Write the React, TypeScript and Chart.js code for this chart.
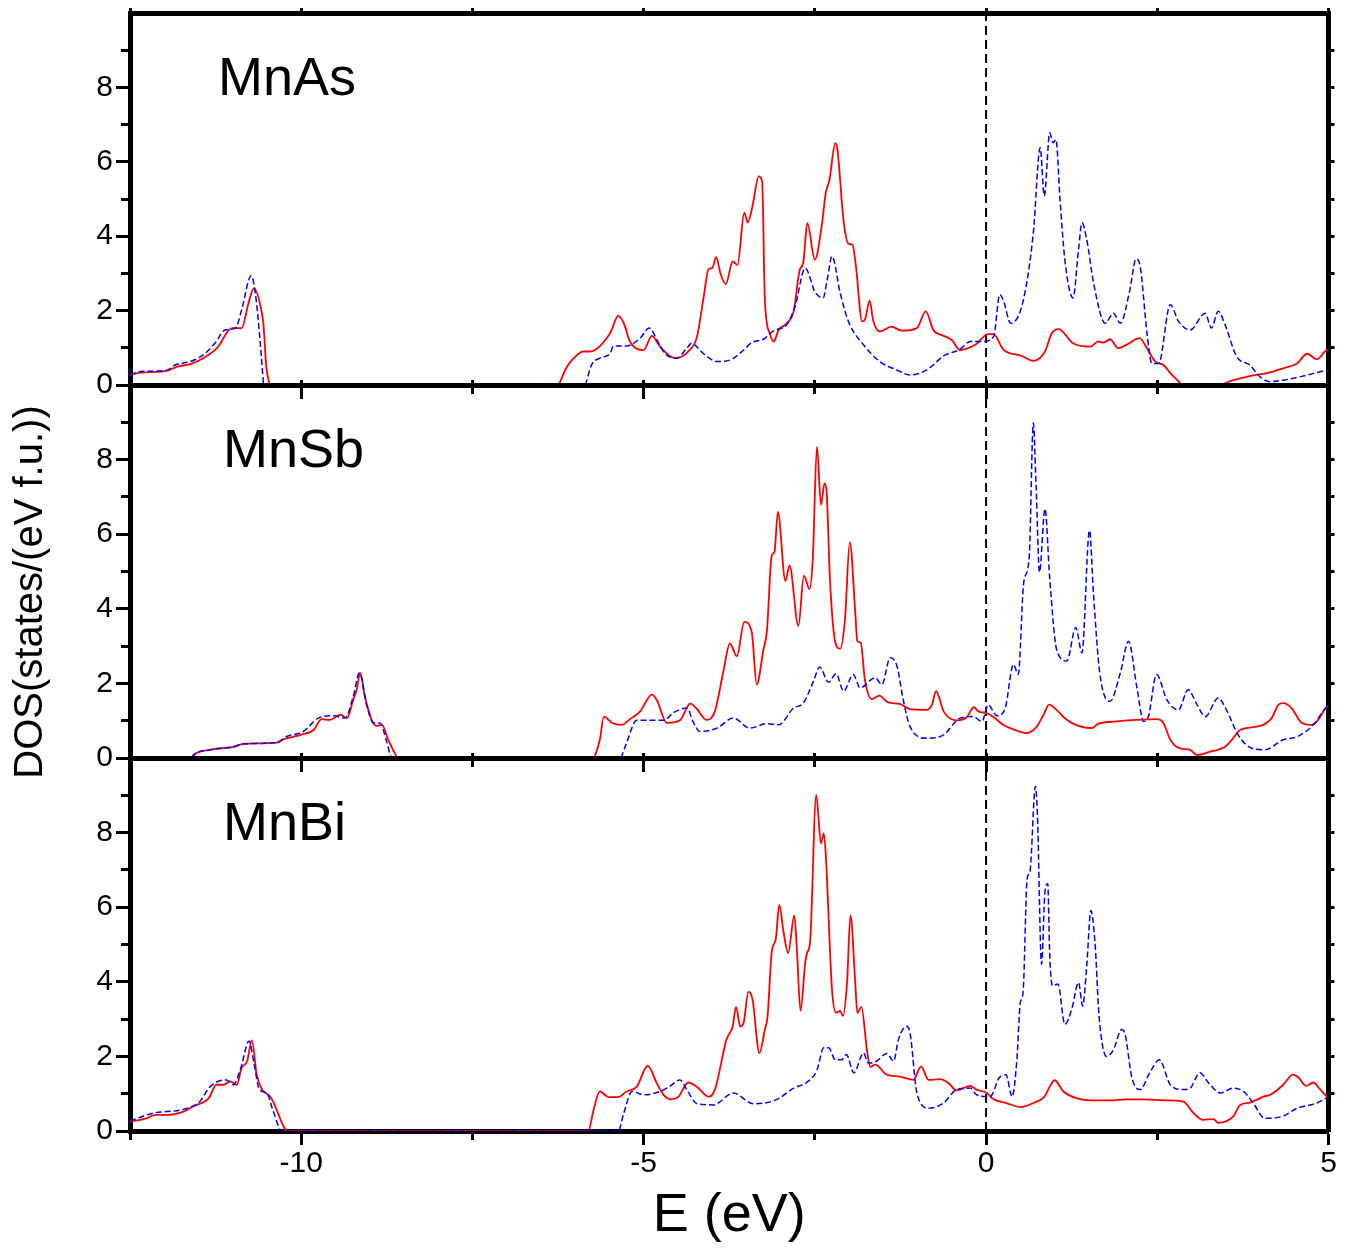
import React, { useEffect, useRef } from 'react';
import { Chart, registerables } from 'chart.js';

Chart.register(...registerables);

// ---------- axis ranges and ticks ----------
const X_MIN = -12.5;
const X_MAX = 5;
const Y_MIN = 0;
const Y_MAX = 10;
const xMajorTicks = [-10, -5, 0, 5];
const xMinorTicks = [-12.5, -7.5, -2.5, 2.5];
const xTopTicks = [-12.5, -10, -7.5, -5, -2.5, 0, 2.5, 5];
const yMajorTicks = [0, 2, 4, 6, 8];
const yMinorTicks = [1, 3, 5, 7, 9];
const yRightTicks = [1, 2, 3, 4, 5, 6, 7, 8, 9];

const xTitle = 'E (eV)';
const yTitle = 'DOS(states/(eV f.u.))';
const panelNames = ['MnAs', 'MnSb', 'MnBi'];
const fermiLevel = 0;

type P = [number, number | null];

// ---------- MnAs ----------
const asUp: P[] = [
  [-12.5, 0.27], [-12.35, 0.33], [-11.96, 0.38], [-11.82, 0.49], [-11.62, 0.56], [-11.43, 0.72], [-11.23, 0.99],
  [-11.01, 1.53], [-10.87, 1.53], [-10.77, 2.2], [-10.69, 2.6], [-10.57, 1.89], [-10.55, 1.6], [-10.51, 0.49],
  [-10.46, 0], [-8.3, null], [-6.24, 0], [-6.12, 0.49], [-6.02, 0.72], [-5.88, 0.9], [-5.78, 0.9], [-5.49, 1.39],
  [-5.37, 1.86], [-5.29, 1.66], [-5.2, 1.17], [-5.0, 0.94], [-4.88, 1.32], [-4.76, 1.03], [-4.54, 0.72],
  [-4.35, 0.9], [-4.22, 1.3], [-4.13, 2.29], [-4.05, 3.12], [-4.0, 3.14], [-3.94, 3.44], [-3.88, 3.01],
  [-3.8, 2.71], [-3.7, 3.32], [-3.63, 3.23], [-3.53, 4.63], [-3.48, 4.37], [-3.41, 4.81], [-3.32, 5.61],
  [-3.27, 5.48], [-3.23, 2.29], [-3.16, 1.39], [-3.1, 1.17], [-3.03, 1.48], [-2.91, 1.66], [-2.81, 1.98],
  [-2.72, 3.1], [-2.67, 3.28], [-2.61, 4.35], [-2.5, 3.37], [-2.4, 4.27], [-2.34, 5.17], [-2.29, 5.48],
  [-2.2, 6.5], [-2.17, 6.33], [-2.08, 4.4], [-2.01, 3.8], [-1.95, 3.77], [-1.9, 3.19], [-1.81, 1.71],
  [-1.77, 1.75], [-1.7, 2.27], [-1.65, 1.75], [-1.55, 1.44], [-1.38, 1.57], [-1.23, 1.46], [-1.01, 1.53],
  [-0.88, 1.98], [-0.77, 1.48], [-0.62, 1.32], [-0.5, 1.21], [-0.38, 0.94], [-0.16, 1.08], [0.03, 1.37],
  [0.11, 1.37], [0.25, 0.96], [0.52, 0.78], [0.69, 0.65], [0.86, 0.9], [0.96, 1.39], [1.06, 1.5], [1.27, 1.12],
  [1.52, 1.03], [1.64, 1.17], [1.71, 1.14], [1.81, 1.23], [1.93, 0.99], [2.05, 1.08], [2.24, 1.26], [2.35, 0.99],
  [2.47, 0.63], [2.59, 0.54], [2.69, 0.32], [2.83, 0.06], [2.86, 0], [3.37, 0], [3.61, 0.13], [3.85, 0.24],
  [4.1, 0.32], [4.34, 0.45], [4.54, 0.58], [4.69, 0.84], [4.83, 0.69], [4.96, 0.92], [5.0, 0.95],
];
const asDn: P[] = [
  [-12.5, 0.27], [-12.35, 0.36], [-11.96, 0.4], [-11.84, 0.54], [-11.62, 0.63], [-11.43, 0.81], [-11.26, 1.12],
  [-11.11, 1.48], [-10.96, 1.53], [-10.87, 2.02], [-10.73, 2.94], [-10.67, 2.47], [-10.61, 1.39], [-10.55, 0],
  [-8.0, null], [-5.85, 0], [-5.76, 0.54], [-5.64, 0.72], [-5.49, 0.85], [-5.44, 1.05], [-5.25, 1.05],
  [-5.05, 1.26], [-4.92, 1.53], [-4.78, 1.12], [-4.69, 0.85], [-4.52, 0.72], [-4.37, 0.99], [-4.3, 1.12],
  [-4.13, 0.85], [-3.93, 0.63], [-3.74, 0.67], [-3.54, 0.94], [-3.42, 1.14], [-3.25, 1.23], [-3.1, 1.46],
  [-2.91, 1.62], [-2.79, 2.11], [-2.64, 3.14], [-2.5, 2.51], [-2.38, 2.34], [-2.32, 2.83], [-2.25, 3.46],
  [-2.13, 2.47], [-2.01, 1.71], [-1.79, 1.08], [-1.55, 0.63], [-1.3, 0.4], [-1.11, 0.27], [-0.87, 0.4],
  [-0.62, 0.78], [-0.38, 0.96], [-0.23, 1.17], [-0.04, 1.17], [0.11, 1.3], [0.2, 2.43], [0.25, 2.29],
  [0.36, 1.66], [0.54, 2.25], [0.69, 4.09], [0.79, 6.38], [0.85, 5.08], [0.93, 6.78], [0.98, 6.51], [1.02, 6.6],
  [1.08, 4.99], [1.15, 3.37], [1.27, 2.34], [1.35, 3.64], [1.4, 4.36], [1.47, 3.91], [1.57, 2.74], [1.74, 1.66],
  [1.86, 1.93], [1.96, 1.66], [2.1, 2.56], [2.19, 3.39], [2.25, 3.19], [2.35, 1.39], [2.42, 0.58], [2.52, 0.58],
  [2.69, 2.16], [2.81, 1.71], [2.98, 1.48], [3.2, 1.93], [3.29, 1.53], [3.39, 1.98], [3.49, 1.62], [3.66, 0.76],
  [3.85, 0.54], [4.0, 0.22], [4.15, 0.09], [4.34, 0.13], [4.63, 0.24], [4.96, 0.39], [5.0, 0.4],
];

// ---------- MnSb ----------
const sbUp: P[] = [
  [-11.6, 0], [-11.57, 0.08], [-11.33, 0.22], [-10.99, 0.3], [-10.84, 0.38], [-10.36, 0.41], [-10.26, 0.5],
  [-10.01, 0.62], [-9.82, 0.75], [-9.7, 1.04], [-9.58, 1.02], [-9.43, 1.16], [-9.33, 1.07], [-9.24, 1.56],
  [-9.19, 1.83], [-9.14, 2.28], [-9.07, 1.65], [-8.97, 1.02], [-8.9, 0.86], [-8.82, 0.89], [-8.73, 0.49],
  [-8.61, 0.05], [-8.59, 0], [-7.0, null], [-5.72, 0], [-5.64, 0.49], [-5.58, 1.11], [-5.46, 0.94], [-5.32, 0.89],
  [-5.2, 1.04], [-5.05, 1.25], [-4.88, 1.7], [-4.81, 1.56], [-4.66, 0.94], [-4.47, 1.01], [-4.32, 1.46],
  [-4.22, 1.31], [-4.08, 1.02], [-3.96, 1.25], [-3.84, 2.28], [-3.74, 3.07], [-3.64, 2.73], [-3.53, 3.65],
  [-3.42, 3.36], [-3.35, 1.97], [-3.25, 2.91], [-3.2, 3.4], [-3.13, 5.43], [-3.09, 5.52], [-3.04, 6.6],
  [-2.93, 4.75], [-2.87, 5.16], [-2.74, 3.54], [-2.66, 4.89], [-2.58, 4.53], [-2.53, 5.34], [-2.47, 8.35],
  [-2.41, 6.79], [-2.36, 7.36], [-2.33, 7.18], [-2.28, 4.8], [-2.2, 3.09], [-2.13, 2.93], [-2.06, 3.72],
  [-1.99, 5.79], [-1.91, 3.9], [-1.88, 3.13], [-1.83, 3.09], [-1.77, 2.1], [-1.67, 1.58], [-1.56, 1.67],
  [-1.43, 1.49], [-1.26, 1.45], [-1.11, 1.31], [-0.87, 1.29], [-0.79, 1.43], [-0.73, 1.79], [-0.62, 1.25],
  [-0.43, 1.01], [-0.28, 1.1], [-0.18, 1.36], [-0.11, 1.25], [0.01, 1.2], [0.11, 1.1], [0.25, 0.89], [0.4, 0.77],
  [0.59, 0.67], [0.74, 0.84], [0.84, 1.16], [0.92, 1.43], [1.03, 1.29], [1.13, 1.1], [1.27, 0.92], [1.54, 0.8],
  [1.64, 0.92], [1.91, 0.98], [2.2, 1.02], [2.49, 1.04], [2.59, 0.94], [2.69, 0.49], [2.83, 0.26], [2.98, 0.22],
  [3.08, 0.08], [3.27, 0.17], [3.49, 0.3], [3.59, 0.49], [3.71, 0.75], [4.0, 0.86], [4.17, 1.07], [4.27, 1.43],
  [4.34, 1.47], [4.46, 1.34], [4.61, 0.94], [4.75, 0.89], [4.85, 1.02], [4.96, 1.34], [5.0, 1.38],
];
const sbDn: P[] = [
  [-11.6, 0], [-11.57, 0.08], [-11.33, 0.22], [-10.99, 0.3], [-10.84, 0.38], [-10.36, 0.41], [-10.22, 0.57],
  [-9.97, 0.71], [-9.75, 1.07], [-9.53, 1.13], [-9.36, 1.07], [-9.24, 1.65], [-9.15, 2.28], [-9.04, 1.38],
  [-8.94, 0.94], [-8.85, 0.94], [-8.76, 0.49], [-8.7, 0.08], [-8.68, 0], [-7.0, null], [-5.33, 0], [-5.25, 0.4],
  [-5.1, 1.01], [-4.91, 1.01], [-4.71, 1.01], [-4.56, 1.22], [-4.37, 1.34], [-4.27, 0.94], [-4.18, 0.71],
  [-3.93, 0.8], [-3.69, 1.07], [-3.45, 0.8], [-3.2, 0.92], [-3.03, 0.89], [-2.81, 1.34], [-2.67, 1.47],
  [-2.52, 2.06], [-2.43, 2.44], [-2.3, 2.03], [-2.19, 2.26], [-2.08, 1.79], [-1.94, 2.24], [-1.84, 1.88],
  [-1.62, 2.15], [-1.52, 1.97], [-1.4, 2.69], [-1.3, 2.46], [-1.21, 1.56], [-1.11, 0.84], [-0.87, 0.53],
  [-0.62, 0.62], [-0.38, 1.07], [-0.19, 1.11], [-0.06, 0.98], [0.03, 1.43], [0.16, 1.13], [0.28, 1.34],
  [0.4, 2.51], [0.47, 2.24], [0.55, 4.71], [0.63, 5.38], [0.69, 8.98], [0.73, 7.31], [0.78, 4.98], [0.86, 6.68],
  [0.93, 4.8], [1.03, 2.91], [1.18, 2.6], [1.31, 3.5], [1.4, 2.82], [1.51, 6.1], [1.57, 4.35], [1.66, 2.28],
  [1.81, 1.52], [1.96, 2.28], [2.08, 3.13], [2.2, 1.92], [2.3, 0.98], [2.37, 1.11], [2.49, 2.24], [2.64, 1.56],
  [2.81, 1.29], [2.95, 1.83], [3.08, 1.43], [3.2, 1.11], [3.39, 1.61], [3.51, 1.29], [3.68, 0.62], [3.88, 0.26],
  [4.07, 0.22], [4.34, 0.49], [4.54, 0.57], [4.78, 0.89], [4.96, 1.34], [5.0, 1.38],
];

// ---------- MnBi ----------
const biUp: P[] = [
  [-12.5, 0.25], [-12.26, 0.34], [-12.13, 0.43], [-11.96, 0.43], [-11.72, 0.52], [-11.57, 0.67], [-11.35, 0.88],
  [-11.24, 1.24], [-11.13, 1.24], [-11.04, 1.33], [-10.94, 1.24], [-10.87, 1.69], [-10.79, 1.87], [-10.72, 2.43],
  [-10.65, 1.51], [-10.57, 1.11], [-10.45, 0.92], [-10.4, 0.75], [-10.23, 0.03], [-10.2, 0], [-5.81, 0],
  [-5.73, 0.57], [-5.64, 1.06], [-5.51, 0.91], [-5.37, 0.91], [-5.25, 1.06], [-5.1, 1.19], [-4.94, 1.75],
  [-4.81, 1.29], [-4.71, 0.97], [-4.59, 0.85], [-4.49, 0.92], [-4.35, 1.3], [-4.22, 1.18], [-4.05, 0.92],
  [-3.96, 1.11], [-3.79, 2.45], [-3.7, 2.8], [-3.65, 3.33], [-3.59, 2.8], [-3.54, 2.9], [-3.47, 3.73],
  [-3.41, 3.53], [-3.31, 2.09], [-3.23, 2.72], [-3.19, 3.08], [-3.13, 4.79], [-3.07, 5.15], [-3.02, 6.06],
  [-2.96, 5.37], [-2.89, 4.77], [-2.8, 5.78], [-2.76, 4.79], [-2.71, 3.22], [-2.64, 4.52], [-2.61, 4.79],
  [-2.57, 5.06], [-2.48, 9.01], [-2.41, 7.71], [-2.37, 7.98], [-2.34, 7.39], [-2.25, 3.8], [-2.19, 3.17],
  [-2.13, 3.22], [-2.09, 3.08], [-2.03, 3.98], [-1.98, 5.78], [-1.91, 3.98], [-1.88, 3.17], [-1.82, 3.33],
  [-1.74, 2.18], [-1.69, 1.72], [-1.62, 1.78], [-1.45, 1.51], [-1.26, 1.46], [-1.06, 1.37], [-0.95, 1.73],
  [-0.84, 1.37], [-0.67, 1.39], [-0.55, 1.29], [-0.43, 1.09], [-0.23, 1.21], [-0.14, 1.11], [0.01, 1.02],
  [0.11, 0.85], [0.3, 0.75], [0.5, 0.64], [0.69, 0.75], [0.86, 0.94], [0.93, 1.19], [1.0, 1.36], [1.13, 1.06],
  [1.32, 0.88], [1.57, 0.82], [1.81, 0.82], [2.05, 0.85], [2.3, 0.85], [2.64, 0.82], [2.88, 0.79], [3.03, 0.48],
  [3.17, 0.3], [3.32, 0.32], [3.39, 0.22], [3.61, 0.39], [3.71, 0.7], [3.85, 0.76], [4.05, 0.92], [4.15, 0.97],
  [4.34, 1.24], [4.48, 1.51], [4.57, 1.42], [4.67, 1.21], [4.78, 1.3], [4.88, 1.11], [5.0, 0.88],
];
const biDn: P[] = [
  [-12.5, 0.27], [-12.16, 0.48], [-11.72, 0.58], [-11.48, 0.79], [-11.33, 1.19], [-11.09, 1.37], [-10.99, 1.24],
  [-10.89, 1.64], [-10.76, 2.41], [-10.69, 1.82], [-10.61, 1.11], [-10.5, 1.02], [-10.43, 0.65], [-10.31, 0.03],
  [-10.3, 0], [-5.37, 0], [-5.29, 0.48], [-5.17, 1.06], [-5.0, 0.97], [-4.76, 1.06], [-4.61, 1.21], [-4.47, 1.37],
  [-4.37, 1.11], [-4.22, 0.73], [-3.98, 0.7], [-3.69, 1.02], [-3.4, 0.73], [-3.06, 0.84], [-2.81, 1.15],
  [-2.62, 1.3], [-2.47, 1.63], [-2.37, 2.23], [-2.3, 2.23], [-2.2, 1.91], [-2.11, 1.91], [-2.04, 2.05],
  [-1.93, 1.56], [-1.79, 2.09], [-1.72, 1.82], [-1.6, 1.87], [-1.45, 2.08], [-1.35, 1.87], [-1.28, 2.45],
  [-1.16, 2.81], [-1.11, 2.63], [-1.01, 1.02], [-0.84, 0.61], [-0.62, 0.75], [-0.43, 1.11], [-0.23, 1.15],
  [-0.14, 0.97], [0.06, 0.92], [0.19, 1.42], [0.29, 1.51], [0.38, 0.92], [0.45, 1.91], [0.5, 3.44], [0.54, 3.71],
  [0.6, 6.77], [0.64, 6.95], [0.72, 9.24], [0.75, 8.47], [0.81, 4.47], [0.86, 6.41], [0.9, 6.63], [0.93, 4.7],
  [0.97, 3.89], [1.05, 3.94], [1.15, 2.86], [1.25, 3.26], [1.35, 3.98], [1.41, 3.35], [1.47, 4.43], [1.53, 5.91],
  [1.59, 5.06], [1.65, 3.08], [1.76, 2.0], [1.86, 2.18], [1.98, 2.72], [2.03, 2.59], [2.13, 1.42], [2.25, 1.11],
  [2.39, 1.56], [2.53, 1.91], [2.69, 1.24], [2.88, 1.11], [2.98, 1.15], [3.12, 1.56], [3.25, 1.29], [3.42, 1.02],
  [3.61, 1.15], [3.76, 1.06], [3.9, 0.75], [4.07, 0.34], [4.34, 0.4], [4.54, 0.61], [4.83, 0.75], [5.0, 0.92],
];

const upSeries = [asUp, sbUp, biUp];
const dnSeries = [asDn, sbDn, biDn];

// ---------- layout (pixels) ----------
const W = 1351;
const H = 1251;
const PANEL_TOP = [13, 385, 758];
const PANEL_BOTTOM = [385, 758, 1131];
const PLOT_LEFT = 130;
const PLOT_RIGHT = 1328.5;
const X_AXIS_H = 120;
const LABEL_DX = [88, 93, 93];
const LABEL_DY = 82;
const FONT = '"Liberation Sans", Arial, Helvetica, sans-serif';

Chart.defaults.font.family = FONT;
Chart.defaults.color = '#000';

const toPts = (arr: P[]) => arr.map(([x, y]) => ({ x, y }));

const setTicks = (vals: number[]) => (scale: any) => {
  scale.ticks = vals.map((v) => ({ value: v }));
};
const fixSize = (w: number | null, h: number | null) => (scale: any) => {
  if (w !== null) scale.width = w;
  if (h !== null) scale.height = h;
  scale.paddingTop = 0;
  scale.paddingBottom = 0;
  scale.paddingLeft = 0;
  scale.paddingRight = 0;
};

const textPlugin = {
  id: 'panelText',
  afterDraw(chart: any, _args: any, opts: any) {
    const { ctx, chartArea } = chart;
    ctx.save();
    ctx.fillStyle = '#000';
    ctx.font = `54px ${FONT}`;
    ctx.textAlign = 'left';
    ctx.textBaseline = 'alphabetic';
    ctx.fillText(opts.label, chartArea.left + opts.dx, chartArea.top + opts.dy);
    if (opts.yTitle) {
      ctx.translate(opts.yTitleX, opts.yTitleY);
      ctx.rotate(-Math.PI / 2);
      ctx.textAlign = 'center';
      ctx.textBaseline = 'middle';
      ctx.font = `40px ${FONT}`;
      ctx.fillText(opts.yTitle, 0, 0);
    }
    ctx.restore();
  },
};

function tickGrid(len: number) {
  return {
    display: true,
    drawOnChartArea: false,
    drawTicks: true,
    tickLength: len,
    tickWidth: 3,
    tickColor: '#000',
    color: '#000',
  };
}

function buildConfig(i: number): any {
  const isBottom = i === 2;
  const xH = isBottom ? X_AXIS_H : 0;
  return {
    type: 'line',
    data: {
      datasets: [
        {
          data: toPts(dnSeries[i]),
          borderColor: '#0000ff',
          borderWidth: 1.5,
          borderDash: [6, 3],
          pointRadius: 0,
          cubicInterpolationMode: 'monotone',
          fill: false,
          spanGaps: false,
          xAxisID: 'x',
          yAxisID: 'y',
        },
        {
          data: toPts(upSeries[i]),
          borderColor: '#ff0000',
          borderWidth: 1.8,
          pointRadius: 0,
          cubicInterpolationMode: 'monotone',
          fill: false,
          spanGaps: false,
          xAxisID: 'x',
          yAxisID: 'y',
        },
        {
          data: [
            { x: fermiLevel, y: Y_MIN },
            { x: fermiLevel, y: Y_MAX },
          ],
          borderColor: '#000',
          borderWidth: 2,
          borderDash: [9, 5],
          pointRadius: 0,
          fill: false,
          xAxisID: 'x',
          yAxisID: 'y',
        },
      ],
    },
    options: {
      animation: false,
      responsive: false,
      maintainAspectRatio: false,
      events: [],
      layout: {
        autoPadding: false,
        padding: {
          left: 0,
          right: W - PLOT_RIGHT,
          top: PANEL_TOP[i],
          bottom: H - PANEL_BOTTOM[i] - xH,
        },
      },
      plugins: {
        legend: { display: false },
        tooltip: { enabled: false },
        title: { display: false },
        panelText: {
          label: panelNames[i],
          dx: LABEL_DX[i],
          dy: LABEL_DY,
          yTitle: i === 1 ? yTitle : null,
          yTitleX: 31,
          yTitleY: 592,
        },
      },
      scales: {
        x: {
          type: 'linear',
          position: 'bottom',
          min: X_MIN,
          max: X_MAX,
          weight: 1,
          afterBuildTicks: setTicks(xMajorTicks),
          afterFit: fixSize(null, xH),
          ticks: {
            display: isBottom,
            color: '#000',
            font: { size: 30 },
            padding: 1,
            autoSkip: false,
            maxRotation: 0,
            callback: (v: any) => String(v),
          },
          grid: tickGrid(14),
          border: { display: true, width: 5, color: '#000' },
          title: {
            display: isBottom,
            text: xTitle,
            color: '#000',
            font: { size: 54 },
            padding: { top: 0, bottom: 2 },
          },
        },
        xMinor: {
          type: 'linear',
          position: 'bottom',
          min: X_MIN,
          max: X_MAX,
          weight: 0,
          afterBuildTicks: setTicks(xMinorTicks),
          afterFit: fixSize(null, 0),
          ticks: { display: false, autoSkip: false },
          grid: tickGrid(9),
          border: { display: false },
        },
        x2: {
          type: 'linear',
          position: 'top',
          min: X_MIN,
          max: X_MAX,
          afterBuildTicks: setTicks(xTopTicks),
          afterFit: fixSize(null, 0),
          ticks: { display: false, autoSkip: false },
          grid: tickGrid(5),
          border: { display: true, width: 5, color: '#000' },
        },
        y: {
          type: 'linear',
          position: 'left',
          min: Y_MIN,
          max: Y_MAX,
          weight: 1,
          afterBuildTicks: setTicks(yMajorTicks),
          afterFit: fixSize(PLOT_LEFT, null),
          ticks: {
            color: '#000',
            font: { size: 30 },
            padding: 3,
            autoSkip: false,
            callback: (v: any) => String(v),
          },
          grid: tickGrid(14),
          border: { display: true, width: 5, color: '#000' },
        },
        yMinor: {
          type: 'linear',
          position: 'left',
          min: Y_MIN,
          max: Y_MAX,
          weight: 0,
          afterBuildTicks: setTicks(yMinorTicks),
          afterFit: fixSize(0, null),
          ticks: { display: false, autoSkip: false },
          grid: tickGrid(9),
          border: { display: false },
        },
        y2: {
          type: 'linear',
          position: 'right',
          min: Y_MIN,
          max: Y_MAX,
          afterBuildTicks: setTicks(yRightTicks),
          afterFit: fixSize(0, null),
          ticks: { display: false, autoSkip: false },
          grid: tickGrid(6),
          border: { display: true, width: 5, color: '#000' },
        },
      },
    },
    plugins: [textPlugin],
  };
}

export default function App() {
  const r0 = useRef<HTMLCanvasElement>(null);
  const r1 = useRef<HTMLCanvasElement>(null);
  const r2 = useRef<HTMLCanvasElement>(null);

  useEffect(() => {
    const refs = [r0, r1, r2];
    const charts = refs.map((r, i) => new Chart(r.current as HTMLCanvasElement, buildConfig(i)));
    return () => charts.forEach((c) => c.destroy());
  }, []);

  const canvasStyle: React.CSSProperties = {
    position: 'absolute',
    left: 0,
    top: 0,
    width: W,
    height: H,
  };

  return (
    <div
      style={{
        position: 'absolute',
        left: 0,
        top: 0,
        width: W,
        height: H,
        background: '#fff',
        overflow: 'hidden',
      }}
    >
      <canvas ref={r0} width={W} height={H} style={canvasStyle} />
      <canvas ref={r1} width={W} height={H} style={canvasStyle} />
      <canvas ref={r2} width={W} height={H} style={canvasStyle} />
    </div>
  );
}
